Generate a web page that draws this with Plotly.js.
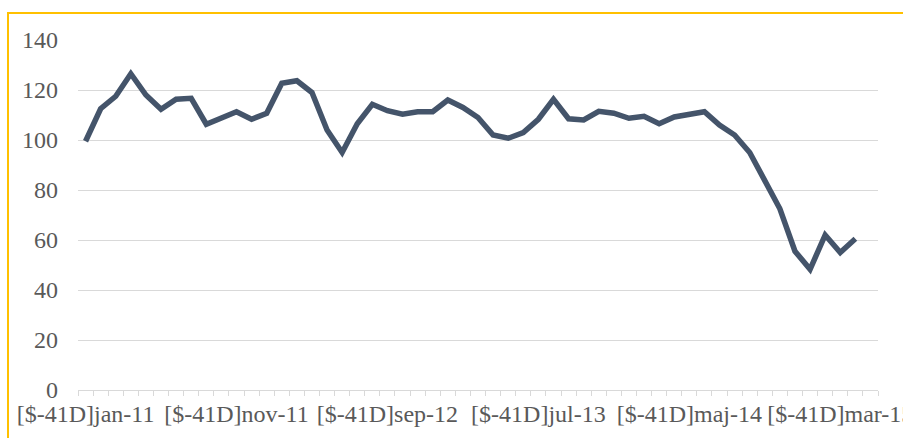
<!DOCTYPE html>
<html>
<head>
<meta charset="utf-8">
<script src="https://cdn.plot.ly/plotly-3.0.1.min.js"></script>
<style>
  html, body { margin: 0; padding: 0; width: 903px; height: 438px; overflow: hidden; background: #ffffff; }
  #chart { position: absolute; left: 0; top: 0; width: 903px; height: 438px; }
  #frame { position: absolute; left: 7px; top: 12px; width: 960px; height: 500px; border: 2px solid #FFC000; pointer-events: none; }
</style>
</head>
<body>
<div id="chart"></div>
<div id="frame"></div>
<script>
// Categories (Excel format code prefix kept as shown in the chart)
const categories = [
  "[$-41D]jan-11","[$-41D]feb-11","[$-41D]mar-11","[$-41D]apr-11","[$-41D]maj-11","[$-41D]jun-11",
  "[$-41D]jul-11","[$-41D]aug-11","[$-41D]sep-11","[$-41D]okt-11","[$-41D]nov-11","[$-41D]dec-11",
  "[$-41D]jan-12","[$-41D]feb-12","[$-41D]mar-12","[$-41D]apr-12","[$-41D]maj-12","[$-41D]jun-12",
  "[$-41D]jul-12","[$-41D]aug-12","[$-41D]sep-12","[$-41D]okt-12","[$-41D]nov-12","[$-41D]dec-12",
  "[$-41D]jan-13","[$-41D]feb-13","[$-41D]mar-13","[$-41D]apr-13","[$-41D]maj-13","[$-41D]jun-13",
  "[$-41D]jul-13","[$-41D]aug-13","[$-41D]sep-13","[$-41D]okt-13","[$-41D]nov-13","[$-41D]dec-13",
  "[$-41D]jan-14","[$-41D]feb-14","[$-41D]mar-14","[$-41D]apr-14","[$-41D]maj-14","[$-41D]jun-14",
  "[$-41D]jul-14","[$-41D]aug-14","[$-41D]sep-14","[$-41D]okt-14","[$-41D]nov-14","[$-41D]dec-14",
  "[$-41D]jan-15","[$-41D]feb-15","[$-41D]mar-15","[$-41D]apr-15","[$-41D]maj-15"
];

// Series values (last category has no value)
const values = [
  99.5, 112.5, 117.5, 126.5, 118.0, 112.3, 116.3, 116.7, 106.3, 109.0,
  111.3, 108.3, 110.7, 122.7, 123.7, 119.0, 104.0, 95.0, 106.5, 114.3,
  111.7, 110.3, 111.3, 111.3, 116.0, 113.0, 109.0, 102.0, 100.7, 103.0,
  108.3, 116.3, 108.5, 108.0, 111.5, 110.7, 108.7, 109.5, 106.5, 109.2,
  110.0, 111.3, 106.0, 102.0, 95.0, 84.0, 72.5, 55.5, 48.3, 62.0,
  55.0, 60.5, null
];

// Labeled categories on the x axis
const labeledCategories = [
  "[$-41D]jan-11","[$-41D]nov-11","[$-41D]sep-12","[$-41D]jul-13","[$-41D]maj-14","[$-41D]mar-15"
];

// Y tick values
const yTicks = [0, 20, 40, 60, 80, 100, 120, 140];

const tickText = categories.map(c => labeledCategories.includes(c) ? c : "");

const FONT = "Liberation Serif";

const trace = {
  type: "scatter",
  mode: "lines",
  x: categories,
  y: values,
  line: { color: "#44546A", width: 5.5, shape: "linear" },
  connectgaps: false,
  hoverinfo: "x+y"
};

const layout = {
  width: 903,
  height: 438,
  margin: { l: 78, r: 25, t: 40, b: 48 },
  paper_bgcolor: "rgba(0,0,0,0)",
  plot_bgcolor: "rgba(0,0,0,0)",
  showlegend: false,
  font: { family: FONT, size: 24, color: "#595959" },
  xaxis: {
    type: "category",
    range: [-0.5, categories.length - 0.5],
    tickmode: "array",
    tickvals: categories,
    ticktext: tickText,
    tickson: "boundaries",
    ticks: "outside",
    ticklen: 5,
    tickwidth: 1,
    tickcolor: "#D9D9D9",
    showline: true,
    linecolor: "#D9D9D9",
    linewidth: 1,
    showgrid: false,
    zeroline: false,
    tickangle: 0,
    ticklabelstandoff: 2,
    automargin: false,
    tickfont: { family: FONT, size: 24, color: "#595959" }
  },
  yaxis: {
    range: [0, 140],
    tickmode: "array",
    tickvals: yTicks,
    ticktext: yTicks.map(String),
    showgrid: true,
    gridcolor: "#D9D9D9",
    gridwidth: 1,
    zeroline: false,
    showline: false,
    ticks: "",
    ticklabelstandoff: 19,
    automargin: false,
    tickfont: { family: FONT, size: 24, color: "#595959" }
  }
};

Plotly.newPlot("chart", [trace], layout, { displayModeBar: false, staticPlot: true });
</script>
</body>
</html>
